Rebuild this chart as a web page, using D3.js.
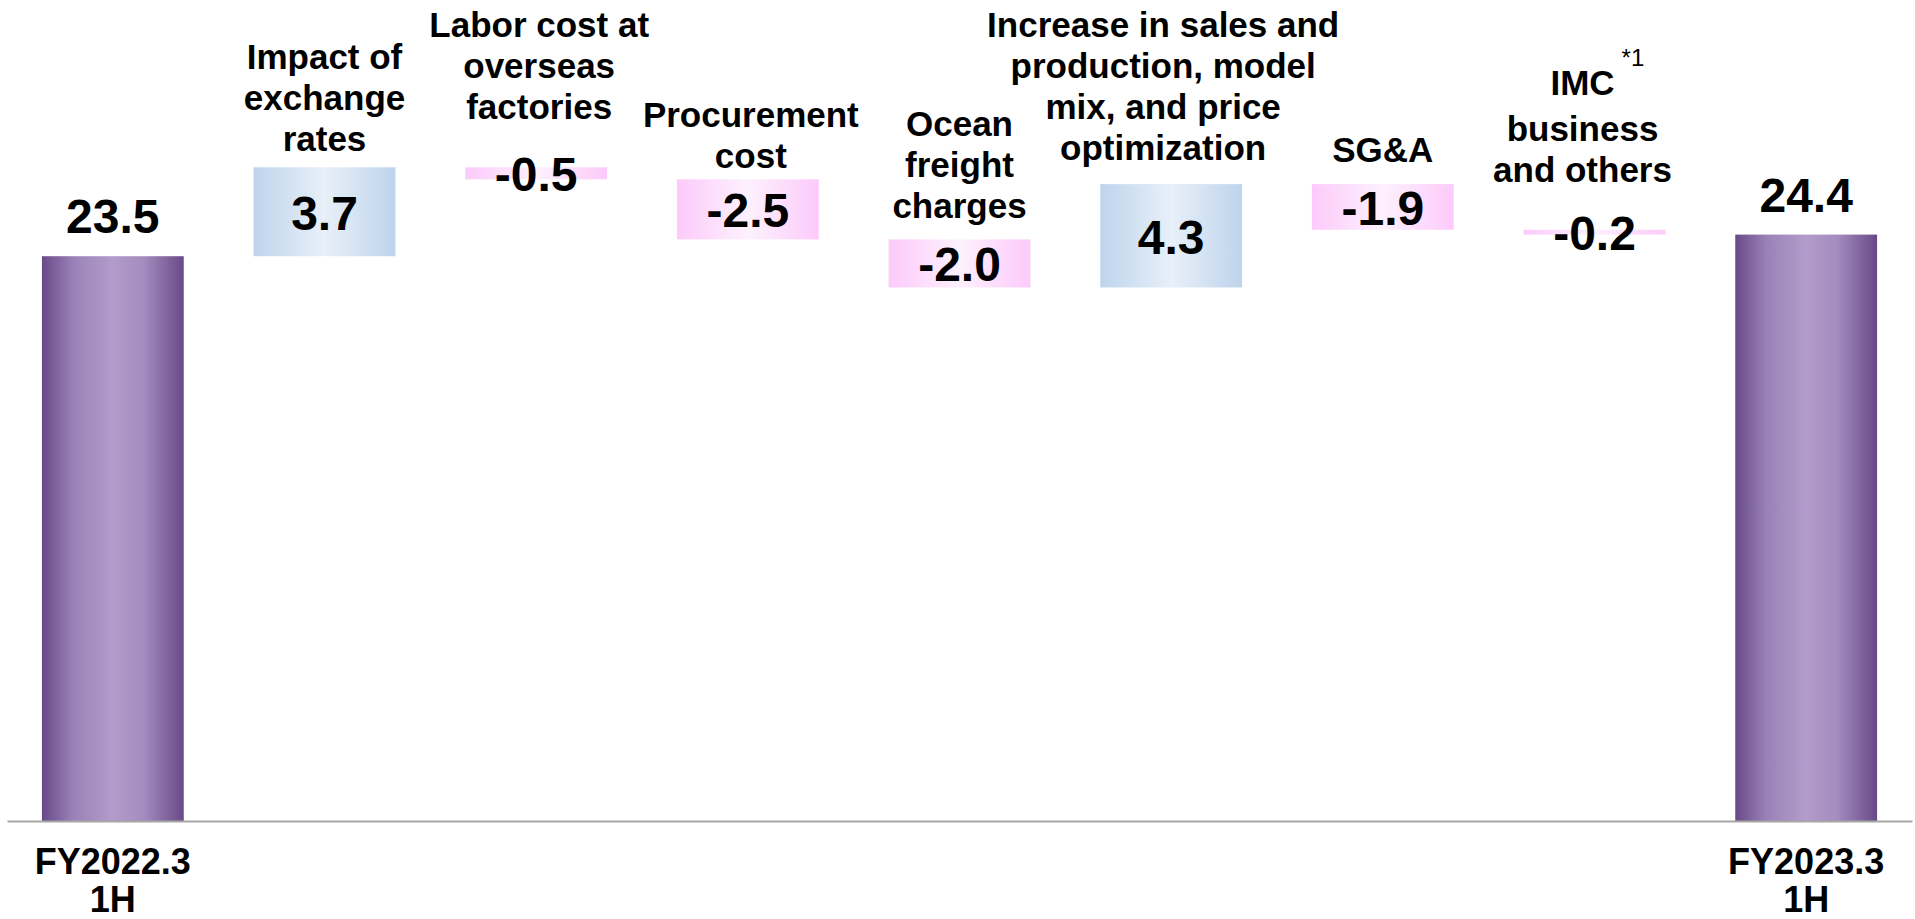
<!DOCTYPE html>
<html><head><meta charset="utf-8">
<script src="https://cdn.jsdelivr.net/npm/d3@7"></script>
<style>body{margin:0;background:#fff}svg{display:block}</style>
</head><body>
<svg id="chart" width="1915" height="919"></svg>
<script>
// ---- data ----
const categories = ["FY2022.3 1H", "Impact of exchange rates", "Labor cost at overseas factories",
  "Procurement cost", "Ocean freight charges",
  "Increase in sales and production, model mix, and price optimization",
  "SG&A", "IMC business and others", "FY2023.3 1H"];
const labelLines = [["FY2022.3", "1H"], ["Impact of", "exchange", "rates"],
  ["Labor cost at", "overseas", "factories"], ["Procurement", "cost"],
  ["Ocean", "freight", "charges"],
  ["Increase in sales and", "production, model", "mix, and price", "optimization"],
  ["SG&A"], ["IMC", "business", "and others"], ["FY2023.3", "1H"]];
const values = [23.5, 3.7, -0.5, -2.5, -2.0, 4.3, -1.9, -0.2, 24.4];
const kinds = ["total", "delta", "delta", "delta", "delta", "delta", "delta", "delta", "total"];
const footnotes = ["", "", "", "", "", "", "", "*1", ""];
const yDomain = [0, 30];

// ---- layout (not data) ----
const W = 1915, H = 919;
const baseY = 821;
const labelLift = [0, 16, 48, 11, 21, 24, 22, 48, 0];
const labelShiftX = [0, 0, 3, 3, 0, -8, 0, -12, 0];
const lineH = 41;
const FONT = "'Liberation Sans', Arial, Helvetica, sans-serif";

const svg = d3.select("#chart");

// gradients
const defs = svg.append("defs");
function grad(id, stops) {
  const g = defs.append("linearGradient").attr("id", id)
    .attr("x1", "0").attr("x2", "1").attr("y1", "0").attr("y2", "0");
  stops.forEach(([o, c]) => g.append("stop").attr("offset", o).attr("stop-color", c));
}
grad("gPurple", [[0, "#684988"], [0.22, "#9a82b7"], [0.5, "#b29ccb"], [0.72, "#a48cbe"], [1, "#684988"]]);
grad("gBlue", [[0, "#bed4ec"], [0.5, "#e8f0f9"], [1, "#bed4ec"]]);
grad("gPink", [[0, "#fccafb"], [0.5, "#fdf1fd"], [1, "#fccafb"]]);

// compute waterfall
let run = 0;
const rows = values.map((v, i) => {
  let s, e;
  if (kinds[i] === "total") { s = 0; e = v; run = v; }
  else { s = run; e = run + v; run = e; }
  return { i, v, s, e, kind: kinds[i], lines: labelLines[i], cat: categories[i], fn: footnotes[i] };
});

const x = d3.scaleBand().domain(d3.range(categories.length))
  .range([7, 1912]).paddingInner(0.33).paddingOuter(0.165);
const y = d3.scaleLinear().domain(yDomain).range([baseY, 100]);

// bars
svg.append("g").selectAll("rect").data(rows).join("rect")
  .attr("x", d => x(d.i))
  .attr("width", x.bandwidth())
  .attr("y", d => y(Math.max(d.s, d.e)))
  .attr("height", d => Math.abs(y(d.s) - y(d.e)))
  .attr("fill", d => d.kind === "total" ? "url(#gPurple)" : (d.v >= 0 ? "url(#gBlue)" : "url(#gPink)"));

// axis line
const axis = svg.append("g").attr("transform", `translate(0,${baseY})`)
  .call(d3.axisBottom(x).tickSize(0).tickSizeOuter(0).tickFormat(""));
axis.select(".domain").attr("stroke", "#a6a6a6").attr("stroke-width", 2);

// value labels
svg.append("g").selectAll("text").data(rows).join("text")
  .attr("x", d => x(d.i) + x.bandwidth() / 2)
  .attr("y", d => d.kind === "total" ? y(d.e) - 23 : (y(d.s) + y(d.e)) / 2)
  .attr("dy", d => d.kind === "total" ? 0 : "0.37em")
  .attr("text-anchor", "middle")
  .attr("font-family", FONT).attr("font-weight", "bold").attr("font-size", 48)
  .attr("fill", "#000")
  .text(d => d.v.toFixed(1));

// category labels
const lab = svg.append("g").attr("font-family", FONT).attr("font-weight", "bold")
  .attr("font-size", 35).attr("fill", "#000").attr("text-anchor", "middle");
rows.forEach(d => {
  const cx = x(d.i) + x.bandwidth() / 2 + labelShiftX[d.i];
  if (d.kind === "total") {
    d.lines.forEach((ln, k) => {
      lab.append("text").attr("x", cx).attr("y", baseY + 53 + k * 38)
        .attr("font-size", 36).text(ln);
    });
  } else {
    const top = y(Math.max(d.s, d.e));
    const lastBase = top - labelLift[d.i];
    const n = d.lines.length;
    d.lines.forEach((ln, k) => {
      let yy = lastBase - (n - 1 - k) * lineH;
      if (d.fn && k === 0) yy -= 5;
      const t = lab.append("text").attr("x", cx).attr("y", yy).text(ln);
      if (d.fn && k === 0) {
        const w = t.node().getComputedTextLength();
        svg.append("text").attr("x", cx + w / 2 + 7).attr("y", yy - 29)
          .attr("font-family", FONT).attr("font-size", 24).attr("fill", "#000")
          .text(d.fn);
      }
    });
  }
});
</script>
</body></html>
